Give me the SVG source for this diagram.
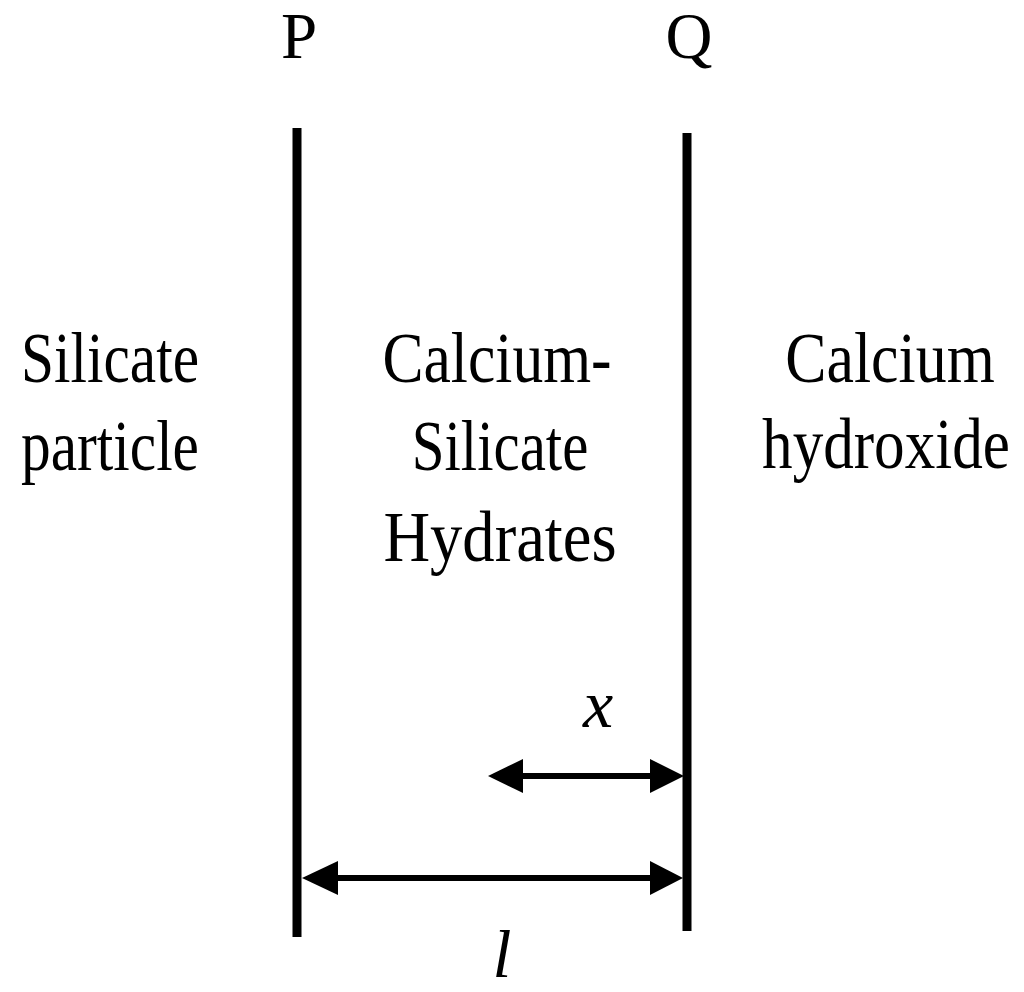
<svg xmlns="http://www.w3.org/2000/svg" width="1024" height="992" viewBox="0 0 1024 992">
<style>
.t{font-family:"Liberation Serif","Times New Roman",serif;font-size:71px;fill:#000;text-anchor:middle}
.h{font-size:65px}
.i{font-style:italic;font-size:68px}
.ln{stroke:#000;stroke-width:9;fill:none}
.ar{stroke:#000;stroke-width:6;fill:none}
.hd{fill:#000}
</style>
<rect width="1024" height="992" fill="#fff"/>
<g id="P"><line class="ln" x1="297" y1="128" x2="297" y2="937"/><text class="t h" x="299" y="58">P</text></g>
<g id="Q"><line class="ln" x1="687" y1="133" x2="687" y2="931"/><text class="t h" x="689" y="58">Q</text></g>
<g id="silicate-particle">
<text class="t" transform="translate(110,382) scale(0.836,1)">Silicate</text>
<text class="t" transform="translate(110,470) scale(0.836,1)">particle</text>
</g>
<g id="csh">
<text class="t" transform="translate(497,382) scale(0.867,1)">Calcium-</text>
<text class="t" transform="translate(500,470) scale(0.83,1)">Silicate</text>
<text class="t" transform="translate(500,561) scale(0.91,1)">Hydrates</text>
</g>
<g id="ch">
<text class="t" transform="translate(890,382) scale(0.871,1)">Calcium</text>
<text class="t" transform="translate(886,468) scale(0.861,1)">hydroxide</text>
</g>
<g id="connectors">
<line class="ar" x1="520" y1="776" x2="653" y2="776"/>
<polygon class="hd" points="488,776 523,759 523,793"/>
<polygon class="hd" points="684,776 650,759 650,793"/>
<line class="ar" x1="335" y1="878" x2="653" y2="878"/>
<polygon class="hd" points="302,878 338,861 338,895"/>
<polygon class="hd" points="683,878 650,861 650,895"/>
</g>
<text class="t i" x="598" y="727">x</text>
<text class="t i" x="502" y="977">l</text>
</svg>
